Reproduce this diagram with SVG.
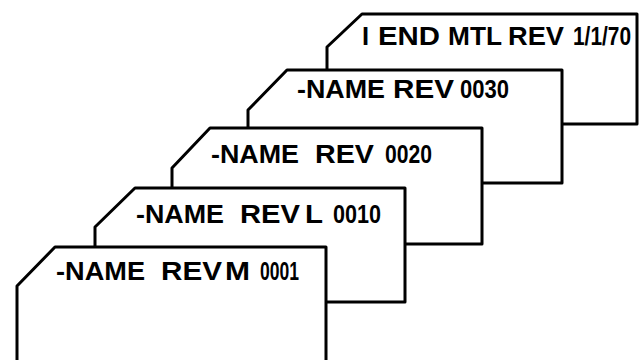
<svg xmlns="http://www.w3.org/2000/svg" width="639" height="360" viewBox="0 0 639 360">
<style>
.card{fill:#fff;stroke:#000;stroke-width:3;stroke-linejoin:round}
.t{font-family:"Liberation Sans",Arial,sans-serif;font-weight:bold;font-size:25.5px;fill:#000}
</style>
<rect width="639" height="360" fill="#fff"/>
<g id="card1">
<polygon class="card" points="327,47 362,14 637,14 637,124 327,124"/>
<text class="t" x="362" y="45">I</text>
<text class="t" x="378" y="45" textLength="62" lengthAdjust="spacingAndGlyphs">END</text>
<text class="t" x="448" y="45" textLength="54" lengthAdjust="spacingAndGlyphs">MTL</text>
<text class="t" x="508" y="45" textLength="56" lengthAdjust="spacingAndGlyphs">REV</text>
<text class="t" transform="translate(573,45) scale(0.82,1)">1/1/70</text>
</g>
<g id="card2">
<polygon class="card" points="248,110 287,70 562,70 562,183 248,183"/>
<text class="t" x="297" y="98" textLength="88" lengthAdjust="spacingAndGlyphs">-NAME</text>
<text class="t" x="393" y="98" textLength="61" lengthAdjust="spacingAndGlyphs">REV</text>
<text class="t" x="460" y="98" textLength="49" lengthAdjust="spacingAndGlyphs">0030</text>
</g>
<g id="card3">
<polygon class="card" points="172,168 210,128 482,128 482,244 172,244"/>
<text class="t" x="211" y="163" textLength="88" lengthAdjust="spacingAndGlyphs">-NAME</text>
<text class="t" x="315" y="163" textLength="59" lengthAdjust="spacingAndGlyphs">REV</text>
<text class="t" x="385" y="163" textLength="47" lengthAdjust="spacingAndGlyphs">0020</text>
</g>
<g id="card4">
<polygon class="card" points="95,227 135,188 405,188 405,302 95,302"/>
<text class="t" x="136" y="223" textLength="88" lengthAdjust="spacingAndGlyphs">-NAME</text>
<text class="t" x="240" y="223" textLength="60" lengthAdjust="spacingAndGlyphs">REV</text>
<text class="t" x="305" y="223" textLength="18" lengthAdjust="spacingAndGlyphs">L</text>
<text class="t" x="333" y="223" textLength="48" lengthAdjust="spacingAndGlyphs">0010</text>
</g>
<g id="card5">
<polygon class="card" points="17,286 55,247 326,247 326,372 17,372"/>
<text class="t" x="56" y="280" textLength="89" lengthAdjust="spacingAndGlyphs">-NAME</text>
<text class="t" x="161" y="280" textLength="61" lengthAdjust="spacingAndGlyphs">REV</text>
<text class="t" x="225" y="280" textLength="25" lengthAdjust="spacingAndGlyphs">M</text>
<text class="t" x="260" y="280" textLength="39" lengthAdjust="spacingAndGlyphs">0001</text>
</g>
</svg>
